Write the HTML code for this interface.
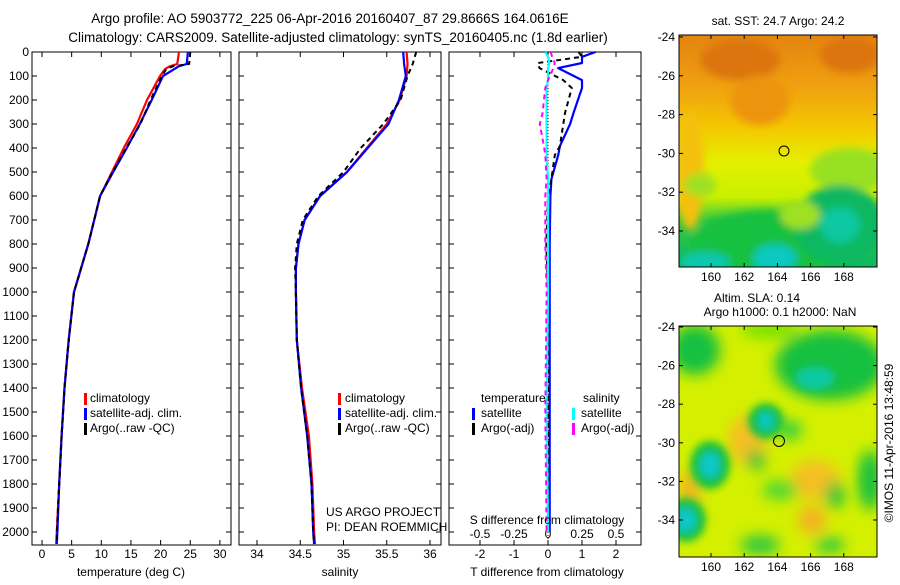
<!DOCTYPE html>
<html><head><meta charset="utf-8"><style>
body{margin:0;background:#fff;}
svg text{font-family:"Liberation Sans",sans-serif;font-size:12px;fill:#000;}
</style></head><body>
<svg id="c" width="900" height="580" xmlns="http://www.w3.org/2000/svg">
<defs>
<filter id="bl" x="-50%" y="-50%" width="200%" height="200%"><feGaussianBlur stdDeviation="7"/></filter>
<filter id="bl2" x="-50%" y="-50%" width="200%" height="200%"><feGaussianBlur stdDeviation="4"/></filter>
<clipPath id="m1"><rect x="679" y="35" width="198" height="232"/></clipPath>
<clipPath id="m2"><rect x="679" y="326" width="198" height="231"/></clipPath>
<linearGradient id="g1" x1="0" y1="0" x2="0" y2="1">
<stop offset="0" stop-color="#e48410"/><stop offset="0.22" stop-color="#f0a010"/><stop offset="0.4" stop-color="#f4c800"/><stop offset="0.55" stop-color="#e4f000"/><stop offset="0.7" stop-color="#c8f000"/><stop offset="0.8" stop-color="#30c840"/><stop offset="1" stop-color="#10b860"/></linearGradient>
</defs>
<text x="330" y="23" text-anchor="middle" style="font-size:13.5px">Argo profile: AO 5903772_225 06-Apr-2016 20160407_87 29.8666S 164.0616E</text>
<text x="338" y="42" text-anchor="middle" style="font-size:13.5px">Climatology: CARS2009. Satellite-adjusted climatology: synTS_20160405.nc (1.8d earlier)</text>
<g id="plots"></g>
<g clip-path="url(#m1)">
<rect x="679" y="35" width="198" height="232" fill="url(#g1)"/>
<g filter="url(#bl2)">
<ellipse cx="740" cy="60" rx="40" ry="20" fill="#dc7410"/><ellipse cx="850" cy="55" rx="30" ry="18" fill="#dc7410"/>
<ellipse cx="760" cy="100" rx="30" ry="25" fill="#ec9410"/>
<ellipse cx="690" cy="170" rx="14" ry="60" fill="#f4c010"/>
<ellipse cx="700" cy="185" rx="16" ry="12" fill="#a0e020"/>
<ellipse cx="850" cy="170" rx="40" ry="22" fill="#98e020"/>
<ellipse cx="770" cy="245" rx="80" ry="35" fill="#18c040"/>
<ellipse cx="840" cy="225" rx="45" ry="40" fill="#10b860"/>
<ellipse cx="840" cy="225" rx="20" ry="18" fill="#10c8a0"/>
<ellipse cx="775" cy="258" rx="22" ry="14" fill="#10c8c0"/>
<ellipse cx="705" cy="262" rx="25" ry="10" fill="#10c8b0"/>
<ellipse cx="800" cy="215" rx="20" ry="14" fill="#a0e020"/>
</g>
<circle cx="784" cy="151" r="5" fill="none" stroke="#000"/>
</g>
<rect x="679" y="35" width="198" height="232" fill="none" stroke="#000"/>
<text x="778" y="25" text-anchor="middle">sat. SST: 24.7 Argo: 24.2</text>
<g clip-path="url(#m2)">
<rect x="679" y="326" width="198" height="231" fill="#d4f000"/>
<g filter="url(#bl)">
<ellipse cx="830" cy="365" rx="55" ry="35" fill="#18c040"/>
<ellipse cx="695" cy="350" rx="25" ry="25" fill="#18c040"/>
<ellipse cx="770" cy="330" rx="30" ry="8" fill="#70e000"/>
<ellipse cx="748" cy="440" rx="20" ry="25" fill="#f4c020"/>
<ellipse cx="815" cy="480" rx="25" ry="20" fill="#f4c020"/>
<ellipse cx="812" cy="520" rx="14" ry="14" fill="#f4b020"/>
<ellipse cx="690" cy="490" rx="10" ry="20" fill="#f4b020"/>
<ellipse cx="870" cy="480" rx="12" ry="30" fill="#18c040"/>
<ellipse cx="835" cy="495" rx="9" ry="14" fill="#18c040"/>
<ellipse cx="756" cy="460" rx="9" ry="10" fill="#18c040"/>
<ellipse cx="790" cy="430" rx="12" ry="10" fill="#30d040"/>
<ellipse cx="760" cy="545" rx="20" ry="10" fill="#30c840"/>
<ellipse cx="830" cy="545" rx="15" ry="8" fill="#30c840"/>
<ellipse cx="780" cy="490" rx="18" ry="10" fill="#50d830"/>
</g>
<g filter="url(#bl2)">
<ellipse cx="766" cy="421" rx="18" ry="18" fill="#18c040"/>
<ellipse cx="766" cy="421" rx="8" ry="9" fill="#10c8c0"/>
<ellipse cx="710" cy="465" rx="20" ry="24" fill="#18c040"/>
<ellipse cx="710" cy="465" rx="10" ry="13" fill="#10c8c8"/>
<ellipse cx="686" cy="520" rx="20" ry="22" fill="#18c040"/>
<ellipse cx="686" cy="520" rx="10" ry="12" fill="#10c8c8"/>
<ellipse cx="815" cy="378" rx="20" ry="12" fill="#10c8a0"/>
</g>
<circle cx="779" cy="441" r="5.5" fill="none" stroke="#000"/>
</g>
<rect x="679" y="326" width="198" height="231" fill="none" stroke="#000"/>
<text x="757" y="302" text-anchor="middle">Altim. SLA: 0.14</text>
<text x="780" y="316" text-anchor="middle">Argo h1000: 0.1 h2000: NaN</text>
<text transform="translate(893,443) rotate(-90)" text-anchor="middle">©IMOS 11-Apr-2016 13:48:59</text>
<g id="maps"></g>
</svg>
<script>
const depthT = [0,50,60,70,100,200,300,400,500,600,800,1000,1200,1400,1600,1800,2000,2050];
const tempClim = [23.1,22.8,21.5,20.8,19.9,17.7,16.0,13.8,11.8,9.8,7.8,5.4,4.5,3.8,3.3,2.9,2.5,2.4];
const tempSat = [24.6,24.4,23.0,22.4,20.4,18.5,16.5,14.3,12.0,9.8,7.8,5.4,4.5,3.8,3.3,2.9,2.6,2.5];
const tempArgo = [25.0,24.8,22.0,21.0,20.2,18.3,16.6,14.2,11.9,9.8,7.8,5.4,4.5,3.8,3.3,2.9,2.5,2.5];
const depthS = [0,50,100,200,300,400,500,600,700,800,900,1000,1200,1400,1600,1800,2000,2050];
const salClim = [35.73,35.74,35.73,35.65,35.5,35.27,35.04,34.73,34.55,34.48,34.45,34.45,34.46,34.52,34.6,34.64,34.66,34.67];
const salSat = [35.69,35.70,35.72,35.64,35.52,35.28,35.04,34.73,34.55,34.48,34.45,34.45,34.46,34.51,34.58,34.63,34.65,34.66];
const salArgo = [35.84,35.80,35.74,35.66,35.46,35.20,35.0,34.71,34.53,34.46,34.44,34.45,34.46,34.51,34.58,34.63,34.65,34.66];
const depthD = [0,20,46,67,117,150,254,300,392,430,530,600,800,1000,1500,2000];
const dTsat = [1.4,1.0,1.0,0.3,1.0,1.0,0.75,0.65,0.35,0.3,0.1,0.07,0.05,0.05,0.05,0.05];
const dTargo = [0.9,1.0,-0.3,-0.25,0.45,0.7,0.5,0.45,0.35,0.2,0.1,0.0,-0.05,0.0,0.0,0.0];
const dSsat = [-0.02,0.0,0.01,0.0,0.0,-0.01,-0.01,-0.01,-0.01,-0.01,0.0,0.0,0.0,0.0,-0.01,0.0];
const dSargo = [0.02,0.03,0.05,0.04,0.0,-0.02,-0.04,-0.06,-0.03,-0.02,-0.01,-0.02,-0.02,-0.01,-0.02,-0.01];
const depthTicks = [0,100,200,300,400,500,600,700,800,900,1000,1100,1200,1300,1400,1500,1600,1700,1800,1900,2000];
const tempTicks = [0,5,10,15,20,25,30];
const salTicks = [34,34.5,35,35.5,36];
const tdTicks = [-2,-1,0,1,2];
const sdTicks = [-0.5,-0.25,0,0.25,0.5];
const sdTickLabels = ['-0.5','-0.25','0','0.25','0.5'];

const NS='http://www.w3.org/2000/svg';
const G=document.getElementById('plots');
function el(tag,at,parent){const e=document.createElementNS(NS,tag);for(const k in at)e.setAttribute(k,at[k]);(parent||G).appendChild(e);return e;}
const yD=d=>52+d*0.24;
const TOP=52,BOT=545;
const xT=t=>42+t*5.93, xS=s=>257+(s-34)*86.5, xTD=v=>548+v*34, xSD=v=>548+v*136;

function frame(x0,x1,name){
  const r=el('rect',{x:x0,y:TOP,width:x1-x0,height:BOT-TOP,fill:'none',stroke:'#000'});
  
  
}
function line(xf,vals,depths,color,dash,name,w){
  const p=el('polyline',{points:vals.map((v,i)=>xf(v).toFixed(1)+','+yD(depths[i]).toFixed(1)).join(' '),fill:'none',stroke:color,'stroke-width':w||2.2,'stroke-linejoin':'round'});
  if(dash)p.setAttribute('stroke-dasharray',dash);
  
  
}
function xticks(xf,ticks,labels,x0,x1,yl,name,top){
  ticks.forEach((t,i)=>{
    const x=xf(t);
    el('line',{x1:x,x2:x,y1:BOT,y2:BOT-5,stroke:'#000'});
    if(top!==false) el('line',{x1:x,x2:x,y1:TOP,y2:TOP+5,stroke:'#000'});
    const tx=el('text',{x:x,y:yl,'text-anchor':'middle'});tx.textContent=labels?labels[i]:String(t);
    
    
  });
}
function yticks(x0,x1,labels){
  depthTicks.forEach(d=>{
    const y=yD(d);
    el('line',{x1:x0,x2:x0+5,y1:y,y2:y,stroke:'#000'});
    el('line',{x1:x1,x2:x1-5,y1:y,y2:y,stroke:'#000'});
    if(labels){const t=el('text',{x:x0-3,y:y+4,'text-anchor':'end'});t.textContent=d;
      
      }
  });
}
function txt(x,y,s,name,anchor){const t=el('text',{x:x,y:y});if(anchor)t.setAttribute('text-anchor',anchor);t.textContent=s;
  
  }
function bar(x,y,c,name){const r=el('rect',{x:x,y:y-10,width:3,height:12,fill:c});
  
  }

frame(32,231,'temperature-panel');
yticks(32,231,true);
xticks(xT,tempTicks,null,32,231,558,'temperature-tick-label');
line(xT,tempClim,depthT,'#f00',null,'temperature-climatology-line');
line(xT,tempSat,depthT,'#00f',null,'temperature-satellite-line');
line(xT,tempArgo,depthT,'#000','5 4','temperature-argo-line',2);
txt(131,576,'temperature (deg C)','temperature-axis-title','middle');
bar(84,403,'#f00','legend-climatology-swatch');txt(90,402,'climatology','legend-climatology');
bar(84,418,'#00f','legend-satellite-swatch');txt(90,417,'satellite-adj. clim.','legend-satellite');
bar(84,433,'#000','legend-argo-swatch');txt(90,432,'Argo(..raw -QC)','legend-argo');

frame(239,441,'salinity-panel');
yticks(239,441,false);
xticks(xS,salTicks,null,239,441,558,'salinity-tick-label');
line(xS,salClim,depthS,'#f00',null,'salinity-climatology-line');
line(xS,salSat,depthS,'#00f',null,'salinity-satellite-line');
line(xS,salArgo,depthS,'#000','5 4','salinity-argo-line',2);
txt(340,576,'salinity','salinity-axis-title','middle');
bar(338,403,'#f00','legend2-climatology-swatch');txt(345,402,'climatology','legend2-climatology');
bar(338,418,'#00f','legend2-satellite-swatch');txt(345,417,'satellite-adj. clim.','legend2-satellite');
bar(338,433,'#000','legend2-argo-swatch');txt(345,432,'Argo(..raw -QC)','legend2-argo');
txt(326,516,'US ARGO PROJECT','project-label');
txt(326,531,'PI: DEAN ROEMMICH','pi-label');

frame(449,641,'difference-panel');
yticks(449,641,false);
xticks(xTD,tdTicks,null,449,641,558,'t-diff-tick-label',false);
sdTicks.forEach((t,i)=>{const tx=el('text',{x:xSD(t),y:538,'text-anchor':'middle'});tx.textContent=sdTickLabels[i];
  
  
  el('line',{x1:xSD(t),x2:xSD(t),y1:TOP,y2:TOP+5,stroke:'#000'});});
el('line',{x1:xTD(0),x2:xTD(0),y1:TOP,y2:BOT,stroke:'#000','stroke-dasharray':'1 2'});
line(xTD,dTsat,depthD,'#00f',null,'t-diff-satellite-line');
line(xTD,dTargo,depthD,'#000','5 4','t-diff-argo-line',2);
line(xSD,dSsat,depthD,'#0ff',null,'s-diff-satellite-line');
line(xSD,dSargo,depthD,'#f0f','5 4','s-diff-argo-line',2);
txt(481,402,'temperature','legend3-temperature-heading');
txt(583,402,'salinity','legend3-salinity-heading');
bar(472,418,'#00f','legend3-t-satellite-swatch');txt(481,417,'satellite','legend3-t-satellite');
bar(472,433,'#000','legend3-t-argo-swatch');txt(481,432,'Argo(-adj)','legend3-t-argo');
bar(572,418,'#0ff','legend3-s-satellite-swatch');txt(581,417,'satellite','legend3-s-satellite');
bar(572,433,'#f0f','legend3-s-argo-swatch');txt(581,432,'Argo(-adj)','legend3-s-argo');
txt(547,524,'S difference from climatology','s-diff-axis-title','middle');
txt(547,576,'T difference from climatology','t-diff-axis-title','middle');

const M=document.getElementById('maps');
const lonTicks=[160,162,164,166,168];
const latTicks=[-24,-26,-28,-30,-32,-34];
const xLon=l=>711+(l-160)*16.6;
function mapAxes(top,bot,lat0y,name){
  lonTicks.forEach(l=>{const x=xLon(l);
    el('line',{x1:x,x2:x,y1:top,y2:top+4,stroke:'#000'},M);
    el('line',{x1:x,x2:x,y1:bot,y2:bot-4,stroke:'#000'},M);
    const t=el('text',{x:x,y:bot+14,'text-anchor':'middle'},M);t.textContent=l;
    
    });
  latTicks.forEach(la=>{const y=lat0y+(-24-la)*((name==='sst')?19.4:19.3);
    el('line',{x1:679,x2:683,y1:y,y2:y,stroke:'#000'},M);
    el('line',{x1:877,x2:873,y1:y,y2:y,stroke:'#000'},M);
    const t=el('text',{x:675,y:y+4,'text-anchor':'end'},M);t.textContent=la;
    
    });
}
mapAxes(35,267,37,'sst');
mapAxes(326,557,327,'sla');
</script>
</body></html>
